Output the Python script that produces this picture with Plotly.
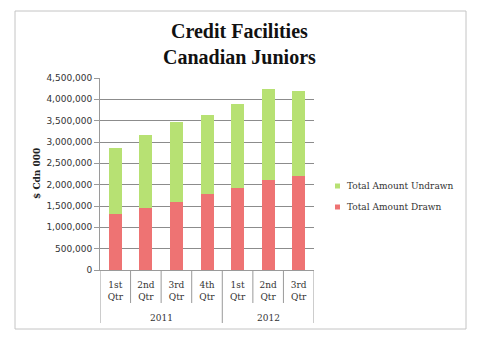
import plotly.graph_objects as go

# Quarterly credit facilities, Canadian juniors ($ Cdn 000)
years = ["2011", "2011", "2011", "2011", "2012", "2012", "2012"]
quarters = ["1st Qtr", "2nd Qtr", "3rd Qtr", "4th Qtr", "1st Qtr", "2nd Qtr", "3rd Qtr"]
amount_drawn = [1320000, 1460000, 1590000, 1770000, 1920000, 2120000, 2200000]
amount_undrawn = [1540000, 1700000, 1890000, 1860000, 1970000, 2120000, 2000000]
y_ticks = [0, 500000, 1000000, 1500000, 2000000, 2500000, 3000000, 3500000, 4000000, 4500000]

W, H = 480, 339
L, R, T, B = 100, 314, 78, 270  # plot area in pixels
PW, PH = R - L, B - T

def px_x(p):
    return (p - L) / PW

def px_y(p):
    return (B - p) / PH

idx = list(range(len(quarters)))
labels = [q.replace(" ", "<br>") for q in quarters]

serif = "DejaVu Serif"
RED, GREEN = "#ee7373", "#b7e173"

fig = go.Figure()
fig.add_trace(go.Bar(x=idx, y=amount_drawn, name="Total Amount Drawn",
                     marker=dict(color=RED, line=dict(width=0))))
fig.add_trace(go.Bar(x=idx, y=amount_undrawn, name="Total Amount Undrawn",
                     marker=dict(color=GREEN, line=dict(width=0))))

shapes = []
annotations = []
# outer chart border
shapes.append(dict(type="rect", xref="paper", yref="paper",
                   x0=px_x(15), x1=px_x(466), y0=px_y(329), y1=px_y(11),
                   line=dict(color="#c4c4c4", width=1), layer="below"))
# quarter dividers below the axis
for i in range(len(quarters) + 1):
    b = i - 0.5
    is_year_edge = i == 0 or i == len(quarters) or years[i] != years[i - 1]
    shapes.append(dict(type="line", xref="x", yref="paper", x0=b, x1=b,
                       y0=0, y1=px_y(323 if is_year_edge else 303),
                       line=dict(color="#9a9a9a", width=1)))

# legend keys: undrawn on top, drawn below
for row, tr in enumerate(reversed(fig.data)):
    cy = 186 + 21 * row
    shapes.append(dict(type="rect", xref="paper", yref="paper",
                       x0=px_x(335), x1=px_x(340), y0=px_y(cy + 2.5), y1=px_y(cy - 2.5),
                       fillcolor=tr.marker.color, line=dict(width=0)))
    annotations.append(dict(x=px_x(345), y=px_y(cy), xref="paper", yref="paper",
                            text=tr.name, showarrow=False, xanchor="left", yanchor="middle",
                            font=dict(family=serif, size=9, color="#333")))

# chart title
annotations.append(dict(x=px_x(239), y=px_y(44), xref="paper", yref="paper",
                        text="<b>Credit Facilities<br>Canadian Juniors</b>",
                        showarrow=False, xanchor="center", yanchor="middle",
                        font=dict(family="Liberation Serif", size=20, color="#111")))
# year group labels
for yr in dict.fromkeys(years):
    pos = [i for i, y in enumerate(years) if y == yr]
    annotations.append(dict(x=sum(pos) / len(pos), xref="x", y=px_y(318), yref="paper",
                            text=yr, showarrow=False, yanchor="middle",
                            font=dict(family=serif, size=9, color="#333")))
# y-axis title
annotations.append(dict(x=px_x(37), y=0.5, xref="paper", yref="paper", text="<b>$ Cdn 000</b>",
                        textangle=-90, showarrow=False, xanchor="center", yanchor="middle",
                        font=dict(family=serif, size=9, color="#222")))

fig.update_layout(
    width=W, height=H,
    margin=dict(l=L, r=W - R, t=T, b=H - B, autoexpand=False),
    paper_bgcolor="white", plot_bgcolor="white",
    barmode="stack", bargap=0.575, showlegend=False,
    xaxis=dict(tickmode="array", tickvals=idx, ticktext=labels,
               range=[-0.5, len(quarters) - 0.5], showgrid=False,
               showline=True, linecolor="#9a9a9a", ticks="", ticklabelstandoff=6,
               tickfont=dict(family=serif, size=9, color="#333")),
    yaxis=dict(range=[0, 4500000], tickvals=y_ticks,
               ticktext=[f"{v:,}" for v in y_ticks],
               showgrid=True, gridcolor="#8c8c8c", gridwidth=1,
               showline=True, linecolor="#9a9a9a", ticks="outside", ticklen=5,
               tickcolor="#9a9a9a", zeroline=False,
               tickfont=dict(family="DejaVu Sans", size=9, color="#333")),
    shapes=shapes, annotations=annotations,
)

fig.write_html("out.html")
